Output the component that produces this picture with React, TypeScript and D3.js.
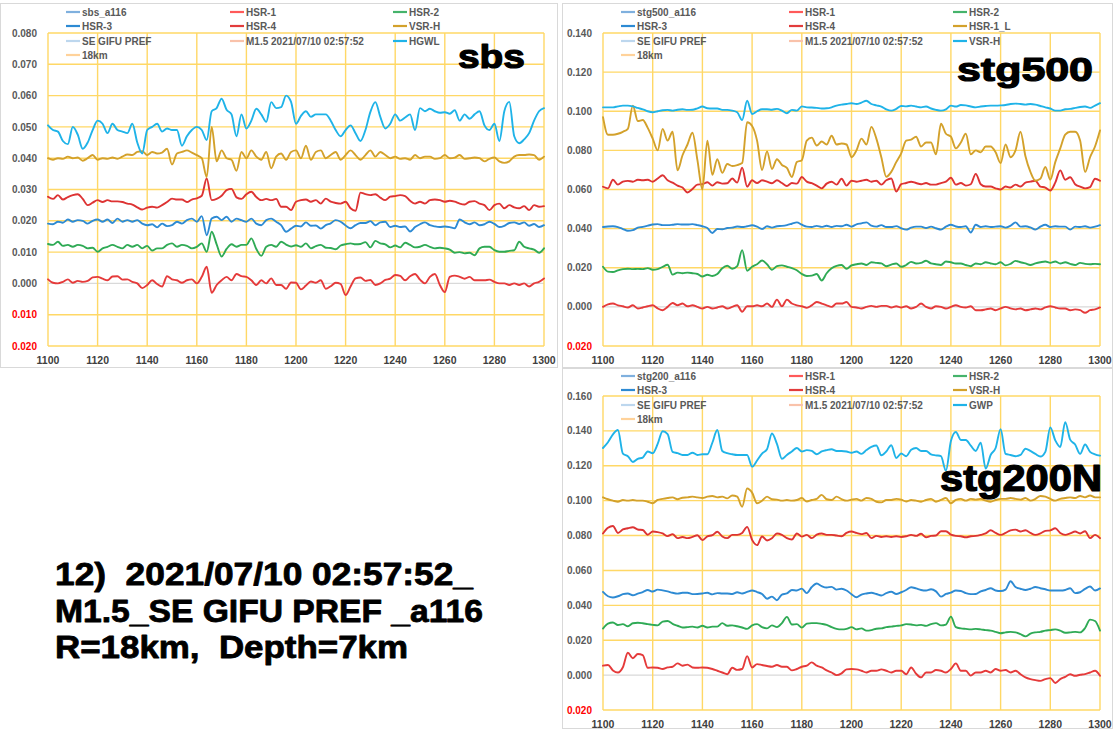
import React from 'react';
import * as d3 from 'd3';

// ---------- time axis (categories) ----------
const TIMES: number[] = d3.range(1100, 1301, 2);
const X_TICKS: number[] = d3.range(1100, 1301, 20);

// ---------- sbs panel ----------
const sbsHGWL = [
  .0505,.049,.0485,.0455,.0445,.050,.0475,.043,.045,.049,
  .052,.051,.048,.051,.049,.0485,.048,.051,.045,.0415,
  .049,.050,.051,.0485,.0495,.049,.049,.044,.047,.049,
  .050,.049,.0458,.055,.056,.059,.0555,.054,.047,.054,
  .0495,.052,.0558,.054,.0516,.0579,.056,.0563,.060,.058,
  .051,.0535,.055,.0532,.054,.054,.054,.052,.049,.047,
  .049,.0505,.048,.0455,.049,.0548,.0579,.0532,.0495,.051,
  .054,.052,.053,.054,.049,.056,.055,.0558,.055,.0545,
  .0547,.0542,.0553,.052,.054,.0526,.054,.055,.0505,.049,
  .051,.0455,.055,.058,.047,.0448,.046,.048,.052,.055,
  .056];
const sbsVSRH = [
  .040,.0395,.040,.0398,.0405,.040,.0402,.0392,.040,.041,
  .0395,.040,.0398,.0402,.0398,.0405,.0412,.041,.042,.0422,
  .041,.042,.0415,.0418,.043,.038,.0415,.042,.0425,.0418,
  .041,.040,.034,.050,.039,.0425,.040,.0395,.036,.042,
  .040,.0425,.0405,.0395,.042,.0368,.0405,.0415,.0395,.042,
  .0425,.040,.044,.0395,.042,.0425,.040,.041,.042,.0395,
  .041,.0425,.041,.0395,.041,.0425,.0405,.042,.041,.040,
  .0405,.0398,.040,.0395,.041,.040,.0405,.0405,.0398,.040,
  .041,.040,.0402,.041,.0398,.040,.0402,.040,.039,.0398,
  .0402,.039,.0385,.039,.0405,.041,.041,.0412,.041,.0395,
  .0405];
const sbsHSR4 = [
  .0277,.027,.0282,.0268,.0276,.0282,.0285,.027,.025,.0258,
  .0266,.026,.0266,.0262,.0262,.026,.0255,.0252,.0243,.0236,
  .0242,.0245,.0242,.025,.026,.0271,.0268,.0268,.026,.0268,
  .0272,.028,.0335,.0266,.027,.028,.0298,.0302,.0275,.027,
  .0285,.0293,.0276,.0266,.027,.0266,.027,.0245,.0245,.0234,
  .0261,.0266,.0268,.0261,.0266,.0255,.0271,.0261,.0257,.0255,
  .0261,.024,.0232,.029,.0285,.0282,.0285,.0274,.0266,.0277,
  .0279,.0282,.0279,.0264,.0255,.0261,.0255,.0266,.0268,.0266,
  .0261,.0264,.0261,.0255,.0252,.0261,.0263,.0255,.025,.0234,
  .025,.0255,.024,.025,.0243,.024,.0247,.0234,.025,.0245,
  .0247];
const sbsHSR3 = [
  .0191,.0189,.0197,.0194,.0204,.0197,.0202,.020,.0191,.020,
  .0204,.0197,.0204,.0193,.0207,.0197,.0202,.0197,.0202,.0191,
  .0186,.0189,.0179,.0191,.0183,.0186,.0197,.0191,.0202,.0207,
  .0197,.0215,.0154,.0207,.0213,.0202,.0213,.0197,.0207,.0202,
  .0197,.0207,.0191,.0186,.0202,.0207,.0197,.0186,.0165,.0175,
  .0184,.0182,.0195,.0184,.0185,.0175,.0186,.0192,.0202,.0197,
  .0185,.0176,.0186,.0193,.0193,.0199,.0186,.0195,.0197,.018,
  .0184,.018,.0182,.0166,.018,.0189,.0195,.0186,.0182,.018,
  .0182,.018,.0176,.0204,.0195,.0189,.0195,.0186,.0189,.0197,
  .019,.018,.0184,.0193,.0195,.019,.0195,.0184,.019,.018,
  .0186];
const sbsHSR2 = [
  .0126,.0123,.0133,.012,.0123,.0117,.0123,.012,.0112,.0114,
  .0101,.0112,.0117,.0123,.0117,.0112,.0123,.0117,.0123,.0112,
  .012,.0105,.0112,.0112,.0123,.0128,.0117,.0123,.012,.0112,
  .0117,.0128,.0101,.0165,.0125,.0086,.011,.0125,.0117,.0123,
  .0123,.0144,.011,.0088,.0117,.0123,.0117,.0133,.0124,.0118,
  .0122,.0117,.0128,.0112,.0119,.0123,.0114,.0113,.0109,.0121,
  .0125,.0128,.0125,.0126,.0132,.0115,.0136,.0128,.0125,.0115,
  .0121,.0115,.013,.0123,.0115,.0117,.0123,.0117,.0112,.0114,
  .0112,.0108,.0098,.010,.0096,.0098,.009,.0112,.0117,.0117,
  .0106,.0101,.0101,.0104,.0106,.0133,.0117,.0112,.0108,.0098,
  .0112];
const sbsHSR1 = [
  .0013,.0002,0,.0005,.0013,.0002,.0008,.0005,.0008,.0019,
  .0021,.0015,.001,.0022,.0023,.0012,.0013,.0005,0,-.0015,
  -.0005,.001,-.0002,-.001,.0023,.0013,.001,.0002,.001,.0013,
  0,.0021,.0053,-.003,-.0005,.001,.0021,.001,.003,.0023,
  .0021,.001,-.0005,.001,0,.0016,-.0005,-.0005,-.0017,.0003,
  .0002,-.0019,-.0007,.0006,.0002,.001,-.0017,-.0009,.0002,-.0002,
  -.0037,-.001,.0016,.0019,.0008,.0011,-.0005,0,.0011,.0015,
  .0027,.0024,.001,.0023,.003,.0012,0,.0021,.003,-.0005,
  -.0028,.0021,.0025,.0021,.0015,.0021,.001,.001,.001,.0012,
  .0005,0,0,-.0005,0,-.0005,0,-.001,0,.0005,
  .0016];

// ---------- stg500 panel ----------
const s500VSRH = [
  .102,.102,.102,.1025,.1029,.1029,.1025,.1017,.101,.100,
  .0995,.100,.1005,.1007,.1003,.1008,.101,.1007,.1008,.1015,
  .1024,.1015,.1014,.1014,.1007,.1007,.1003,.0995,.0955,.1054,
  .0986,.100,.101,.101,.1008,.1012,.1003,.099,.1007,.1003,
  .1025,.102,.1019,.1017,.1014,.1015,.102,.1029,.1034,.1037,
  .1041,.1037,.1044,.1054,.1037,.103,.1024,.101,.1003,.1012,
  .1027,.1025,.1029,.1024,.102,.1024,.1014,.1007,.1003,.101,
  .1029,.1024,.1032,.103,.1024,.102,.1024,.1027,.1029,.1029,
  .103,.1032,.1037,.1039,.1037,.1034,.1037,.1034,.1027,.102,
  .1014,.1003,.1003,.101,.1012,.1017,.1022,.1024,.1017,.1029,
  .1041];
const s500HSR1L = [
  .097,.088,.088,.0885,.0895,.091,.1029,.095,.0955,.0915,
  .086,.080,.091,.085,.0895,.0698,.0775,.083,.089,.075,
  .060,.085,.0675,.0755,.0685,.073,.072,.0725,.0735,.0944,
  .0925,.085,.070,.0795,.0705,.0755,.0725,.071,.0664,.074,
  .075,.085,.0865,.0825,.0845,.083,.0875,.083,.0835,.083,
  .0765,.080,.086,.083,.092,.086,.0765,.0665,.069,.074,
  .0785,.085,.0855,.087,.082,.084,.084,.078,.0936,.0885,
  .087,.081,.084,.0885,.078,.080,.079,.082,.082,.079,
  .0735,.083,.0765,.080,.0895,.077,.069,.0645,.0655,.0715,
  .065,.074,.081,.088,.0895,.0895,.085,.069,.0765,.082,
  .0902];
const s500HSR4 = [
  .0614,.0606,.065,.0625,.064,.0644,.064,.065,.0647,.065,
  .064,.0656,.0673,.0647,.0635,.062,.061,.0585,.0603,.0625,
  .0627,.0637,.062,.0637,.063,.0632,.0656,.0635,.0712,.0615,
  .0647,.0633,.0647,.064,.0632,.0647,.0633,.0618,.0633,.063,
  .0664,.064,.0632,.062,.0606,.063,.064,.0625,.0655,.062,
  .0645,.064,.0645,.065,.064,.0645,.0625,.0647,.0656,.059,
  .0627,.0633,.064,.0633,.0627,.0633,.0625,.0625,.0633,.064,
  .066,.0625,.0633,.062,.0627,.068,.0627,.0615,.0615,.0606,
  .060,.0615,.061,.0625,.0615,.0635,.064,.0645,.0615,.061,
  .0595,.0635,.0698,.065,.0663,.0627,.0615,.0606,.0612,.0655,
  .0645];
const s500HSR3 = [
  .0408,.0411,.0412,.0408,.0398,.0389,.0392,.0405,.0409,.0415,
  .0421,.0423,.0418,.0418,.042,.0423,.0421,.0421,.0423,.0418,
  .0412,.0403,.0378,.0398,.0397,.0403,.0405,.0411,.0408,.0412,
  .0417,.041,.0398,.0412,.0405,.0412,.0414,.0418,.0425,.0432,
  .042,.041,.0408,.0414,.0409,.0415,.0408,.0414,.0412,.042,
  .041,.0422,.0427,.0432,.0415,.041,.0418,.0408,.0408,.0413,
  .0402,.0395,.0405,.041,.041,.0403,.041,.0402,.0395,.041,
  .042,.0411,.0408,.0412,.038,.042,.0408,.0412,.0408,.041,
  .0412,.0405,.0415,.0432,.041,.0412,.0406,.0395,.041,.042,
  .0408,.0412,.041,.041,.0395,.041,.0408,.0412,.0405,.041,
  .0418];
const s500HSR2 = [
  .0205,.018,.0178,.0187,.0193,.0195,.0193,.0194,.0193,.0198,
  .019,.0193,.0205,.0215,.0165,.0175,.0172,.0175,.0172,.0168,
  .0155,.0164,.0158,.0168,.0197,.021,.0195,.0208,.029,.0185,
  .0205,.0218,.0237,.0218,.019,.0208,.0212,.0205,.0198,.0187,
  .0168,.0158,.016,.0168,.0135,.0172,.0197,.021,.0214,.0195,
  .0212,.0218,.0222,.0214,.0228,.0225,.0222,.0208,.0216,.0222,
  .0205,.0214,.023,.0222,.0225,.0236,.0222,.0218,.0214,.0232,
  .0228,.0222,.0222,.0214,.0208,.0222,.0218,.0228,.0222,.0218,
  .0228,.0212,.022,.0235,.0228,.0222,.0214,.0222,.0228,.0232,
  .0225,.0232,.0222,.0228,.022,.0214,.0225,.022,.0218,.022,
  .0218];
const s500HSR1 = [
  0,.0013,.0017,.0008,.0003,-.0003,.0008,-.0008,-.0003,.0003,
  .0008,-.0008,-.0017,0,.002,.0008,.0017,.0003,.0008,0,
  -.0008,0,-.0008,-.0003,.0003,-.0008,0,.0008,-.0025,.0003,
  .0003,.0008,.0003,.0017,0,.0037,.0003,.0037,.0017,.0008,
  .0003,-.0005,.0008,.0025,.0017,.0008,0,.0017,.0017,.0025,
  0,-.0003,-.0008,0,.0005,0,.0005,.0005,-.0003,.0003,
  -.0003,.0003,-.0008,0,.0017,0,-.0008,.0003,0,-.0008,
  0,.0008,0,-.0003,.0003,-.0017,-.0017,-.0013,-.0008,-.0017,
  -.0008,0,-.0008,-.0013,-.0008,-.0017,-.0013,-.0008,-.0013,-.0003,
  .0003,-.0003,-.0008,-.0008,-.0017,-.0013,-.0017,-.003,-.0017,-.0013,
  -.0003];

// ---------- stg200N panel ----------
const s200GWP = [
  .1302,.1335,.138,.1405,.127,.1255,.1222,.124,.1247,.1282,
  .1272,.1325,.1398,.1382,.128,.1272,.1262,.1262,.1275,.1262,
  .1266,.1266,.1332,.1405,.1285,.1272,.1266,.1262,.1262,.1262,
  .1195,.123,.127,.1295,.1385,.1325,.124,.1262,.1282,.1302,
  .1282,.129,.1285,.1266,.1282,.129,.1295,.1285,.1285,.1282,
  .1275,.1282,.1268,.129,.1308,.1316,.126,.1282,.1318,.1245,
  .127,.1255,.1292,.1302,.1285,.1285,.1266,.126,.1255,.1172,
  .1342,.1394,.1348,.1348,.1315,.1285,.1333,.1184,.1262,.1302,
  .141,.1268,.1262,.1255,.1262,.1298,.1285,.1268,.1253,.128,
  .142,.1346,.1308,.145,.135,.1322,.1268,.1322,.128,.1266,
  .1258];
const s200VSRH = [
  .1019,.1008,.100,.0994,.1004,.100,.1004,.100,.100,.0994,
  .0985,.1004,.101,.1015,.1019,.1008,.1017,.1019,.1023,.1019,
  .1015,.1023,.1027,.1019,.1023,.1013,.103,.1023,.0965,.107,
  .1046,.0985,.100,.1023,.1008,.1006,.100,.1004,.100,.1004,
  .1015,.0995,.1004,.101,.1033,.1008,.1004,.1023,.1009,.100,
  .1006,.101,.100,.1015,.101,.0994,.099,.1004,.1004,.101,
  .1006,.0995,.1004,.100,.0994,.1004,.101,.0994,.1004,.1015,
  .0985,.1004,.101,.100,.101,.1006,.101,.100,.0994,.1004,
  .101,.101,.1015,.101,.1006,.1015,.100,.101,.1027,.1023,
  .101,.100,.101,.1015,.1019,.1015,.1027,.1019,.103,.1019,
  .1019];
const s200HSR4 = [
  .0812,.0845,.0855,.0815,.0835,.0842,.0848,.0835,.0832,.0805,
  .0823,.082,.0812,.0797,.0808,.0785,.0792,.0785,.0792,.0802,
  .0774,.0795,.0802,.0822,.0795,.0785,.0804,.0804,.0815,.085,
  .0775,.0745,.0795,.0772,.0785,.0812,.0804,.0785,.0777,.0812,
  .0794,.0804,.0785,.0805,.0812,.0804,.0804,.08,.0796,.0815,
  .0823,.0815,.0808,.0815,.0785,.0798,.0792,.0796,.0792,.0796,
  .0792,.0796,.0804,.0798,.081,.079,.0798,.08,.0825,.0825,
  .0805,.0798,.0796,.079,.0796,.0798,.0804,.0812,.083,.0815,
  .0804,.0815,.083,.0834,.0823,.083,.0815,.0804,.0812,.0827,
  .083,.0842,.0815,.0804,.0812,.0823,.0812,.0825,.0785,.0804,
  .0785];
const s200HSR3 = [
  .0477,.0452,.0445,.0452,.0464,.0468,.0458,.0467,.0476,.0488,
  .0479,.049,.0486,.048,.0472,.0467,.0472,.0472,.0464,.0465,
  .0468,.0472,.0463,.047,.0468,.0468,.0465,.0475,.0468,.0477,
  .0485,.0476,.0465,.0438,.045,.0429,.0462,.0468,.0488,.0485,
  .0496,.047,.0505,.0525,.051,.0502,.0506,.049,.0495,.0485,
  .0464,.0446,.0462,.0468,.0472,.0465,.0456,.047,.0478,.0465,
  .0475,.0488,.0504,.0497,.0488,.0485,.0492,.048,.045,.0465,
  .0473,.0485,.0482,.047,.0464,.0465,.048,.0488,.0498,.0485,
  .0482,.049,.0538,.0505,.0495,.0488,.0495,.0505,.0498,.0492,
  .0485,.0485,.0485,.0488,.0498,.047,.0475,.0494,.0508,.0485,
  .0497];
const s200HSR2 = [
  .0267,.0295,.0302,.0287,.0292,.028,.0297,.030,.0297,.0292,
  .0288,.0285,.0307,.031,.0294,.0283,.0273,.0275,.0278,.0273,
  .0283,.0273,.0278,.0278,.0298,.0283,.0285,.028,.0273,.0265,
  .0285,.0292,.0275,.0268,.0285,.0275,.0298,.0334,.029,.0292,
  .0272,.0295,.0298,.0298,.0294,.0288,.0275,.0265,.0262,.0265,
  .0275,.0262,.0268,.0255,.0258,.0266,.0268,.0275,.0278,.0282,
  .0285,.0292,.029,.0285,.0288,.0282,.0292,.0298,.0285,.029,
  .0335,.0275,.0268,.0265,.0262,.0265,.0262,.0258,.0255,.0248,
  .024,.0245,.0248,.0245,.0235,.0222,.0238,.0245,.0248,.0255,
  .0258,.0262,.0255,.0243,.0245,.0248,.0245,.027,.0318,.031,
  .0255];
const s200HSR1 = [
  .0054,.0058,.0027,.0015,.0045,.0128,.0097,.0121,.0115,.0042,
  .0044,.0042,.0035,.0044,.0048,.0067,.0054,.006,.0044,.0042,
  .0044,.0042,.0035,.0025,.0015,.0005,.0042,.003,.0035,.0109,
  .0044,.0063,.0058,.0052,.0048,.0058,.0048,.0048,.0027,.0035,
  .0048,.0054,.0073,.0054,.0044,.0027,.0015,0,.001,.0033,
  .0035,.0033,.0025,.0015,.0025,.0025,.0033,.0025,.0015,.0025,
  .0025,.0005,.0044,.0008,-.0013,.0015,.0015,.0029,.0025,.0015,
  .0035,.0067,.0025,.0025,-.0003,.0015,.0015,.0025,.0015,.0035,
  .0025,.0029,.0015,.0025,.0005,-.0013,-.0023,-.0029,-.0033,-.0023,
  -.0017,-.0045,-.0023,-.001,.0005,-.0004,.0002,.0006,.0015,.0025,
  -.0004];

// ---------- labels ----------
const sbsLegendLabels = ['sbs_a116', 'HSR-1', 'HSR-2', 'HSR-3', 'HSR-4', 'VSR-H', 'SE GIFU PREF', 'M1.5 2021/07/10 02:57:52', 'HGWL', '18km'];
const s500LegendLabels = ['stg500_a116', 'HSR-1', 'HSR-2', 'HSR-3', 'HSR-4', 'HSR-1_L', 'SE GIFU PREF', 'M1.5 2021/07/10 02:57:52', 'VSR-H', '18km'];
const s200LegendLabels = ['stg200_a116', 'HSR-1', 'HSR-2', 'HSR-3', 'HSR-4', 'VSR-H', 'SE GIFU PREF', 'M1.5 2021/07/10 02:57:52', 'GWP', '18km'];
const annotationLines = ['12)  2021/07/10 02:57:52_', 'M1.5_SE GIFU PREF _a116', 'R=18km,  Depth=7km'];

// ---------- styling ----------
const FONT = '"Liberation Sans", Arial, Helvetica, sans-serif';
const COL = {
  cyan: '#1FB3E8', gold: '#D3A12B', red: '#E53A3A', red4: '#DD3333', blue: '#2D8AD3', green: '#2FAA55',
};
const LEGEND_COLORS = ['#7FB0DE', '#FF5A5A', '#45B36B', '#2D8AD3', '#E23C3C', '#D3A12B', '#BDD7EE', '#F9C2AA', '#1FB3E8', '#FFD29A'];
const GRID = '#FFD866';
const ZERO = '#D9D9D9';

type Series = { values: number[]; color: string };
type PanelDef = {
  key: string;
  frame: [number, number, number, number];
  plot: { l: number; r: number; t: number; b: number };
  yMin: number; yMax: number; yStep: number;
  title: string; titleX: number; titleY: number; titleLen: number; titleSize: number;
  legendCols: number[]; legendRows: number[]; legendLabels: string[];
  series: Series[];
};

const panels: PanelDef[] = [
  {
    key: 'sbs', frame: [0.5, 3.5, 557, 364], plot: { l: 48, r: 544, t: 33, b: 346 },
    yMin: -0.02, yMax: 0.08, yStep: 0.01,
    title: 'sbs', titleX: 458, titleY: 68, titleLen: 67, titleSize: 34,
    legendCols: [66, 230, 393], legendRows: [12, 26, 41, 55], legendLabels: sbsLegendLabels,
    series: [
      { values: sbsHSR1, color: COL.red },
      { values: sbsHSR2, color: COL.green },
      { values: sbsHSR3, color: COL.blue },
      { values: sbsHSR4, color: COL.red4 },
      { values: sbsVSRH, color: COL.gold },
      { values: sbsHGWL, color: COL.cyan },
    ],
  },
  {
    key: 'stg500', frame: [562.5, 3.5, 550, 364], plot: { l: 603, r: 1100, t: 33, b: 346 },
    yMin: -0.02, yMax: 0.14, yStep: 0.02,
    title: 'stg500', titleX: 957, titleY: 81, titleLen: 136, titleSize: 34,
    legendCols: [621, 789, 953], legendRows: [12, 26, 41, 55], legendLabels: s500LegendLabels,
    series: [
      { values: s500HSR1, color: COL.red },
      { values: s500HSR2, color: COL.green },
      { values: s500HSR3, color: COL.blue },
      { values: s500HSR4, color: COL.red4 },
      { values: s500HSR1L, color: COL.gold },
      { values: s500VSRH, color: COL.cyan },
    ],
  },
  {
    key: 'stg200N', frame: [562.5, 368.5, 550, 360], plot: { l: 603, r: 1100, t: 396, b: 710 },
    yMin: -0.02, yMax: 0.16, yStep: 0.02,
    title: 'stg200N', titleX: 940, titleY: 491, titleLen: 162, titleSize: 36,
    legendCols: [621, 789, 953], legendRows: [376, 390, 405, 419], legendLabels: s200LegendLabels,
    series: [
      { values: s200HSR1, color: COL.red },
      { values: s200HSR2, color: COL.green },
      { values: s200HSR3, color: COL.blue },
      { values: s200HSR4, color: COL.red4 },
      { values: s200VSRH, color: COL.gold },
      { values: s200GWP, color: COL.cyan },
    ],
  },
];

function Panel({ p }: { p: PanelDef }) {
  const x = d3.scaleLinear().domain([1100, 1300]).range([p.plot.l, p.plot.r]);
  const y = d3.scaleLinear().domain([p.yMin, p.yMax]).range([p.plot.b, p.plot.t]);
  const nTicks = Math.round((p.yMax - p.yMin) / p.yStep);
  const yTicks = d3.range(0, nTicks + 1).map((i) => +(p.yMin + i * p.yStep).toFixed(4));
  const line = d3
    .line<number>()
    .x((_, i) => x(TIMES[i]))
    .y((d) => y(d))
    .curve(d3.curveMonotoneX);

  return (
    <g>
      <rect x={p.frame[0]} y={p.frame[1]} width={p.frame[2]} height={p.frame[3]} fill="#fff" stroke="#D9D9D9" strokeWidth={1} />
      {yTicks.map((v) => (
        <line key={'h' + v} x1={p.plot.l} x2={p.plot.r} y1={y(v)} y2={y(v)}
          stroke={Math.abs(v) < 1e-9 ? ZERO : GRID} strokeWidth={1.4} />
      ))}
      {X_TICKS.map((t) => (
        <line key={'v' + t} x1={x(t)} x2={x(t)} y1={p.plot.t} y2={p.plot.b} stroke={GRID} strokeWidth={1.4} />
      ))}
      {yTicks.map((v) => (
        <text key={'yl' + v} x={p.plot.l - 11} y={y(v) + 3.6} textAnchor="end" fontFamily={FONT}
          fontWeight="bold" fontSize={10} fill={v < -1e-9 ? '#FF0000' : '#595959'}>
          {Math.abs(v).toFixed(3)}
        </text>
      ))}
      {X_TICKS.map((t) => (
        <text key={'xl' + t} x={x(t)} y={p.plot.b + 18} textAnchor="middle" fontFamily={FONT}
          fontWeight="bold" fontSize={10.5} fill="#404040">
          {t}
        </text>
      ))}
      {p.series.map((s, i) => (
        <path key={'s' + i} d={line(s.values) || ''} fill="none" stroke={s.color} strokeWidth={1.9}
          strokeLinejoin="round" strokeLinecap="round" />
      ))}
      {p.legendLabels.map((lab, i) => {
        const col = p.legendCols[i % 3];
        const row = p.legendRows[Math.floor(i / 3)];
        return (
          <g key={'lg' + i}>
            <line x1={col} x2={col + 14} y1={row} y2={row} stroke={LEGEND_COLORS[i]} strokeWidth={2.2} />
            <text x={col + 16} y={row + 3.5} fontFamily={FONT} fontWeight="bold" fontSize={10} fill="#595959">
              {lab}
            </text>
          </g>
        );
      })}
      <text x={p.titleX} y={p.titleY} fontFamily={FONT} fontWeight="bold" fontSize={p.titleSize}
        textLength={p.titleLen} lengthAdjust="spacingAndGlyphs" fill="#000" stroke="#000" strokeWidth={1.2}
        strokeLinejoin="round">
        {p.title}
      </text>
    </g>
  );
}

export default function App() {
  const annY = [585, 622, 658];
  const annLen = [418, 428, 353];
  return (
    <svg width={1115} height={731} style={{ position: 'absolute', left: 0, top: 0, background: '#fff' }}>
      <rect x={0} y={0} width={1115} height={731} fill="#fff" />
      {panels.map((p) => (
        <Panel key={p.key} p={p} />
      ))}
      {annotationLines.map((t, i) => (
        <text key={'an' + i} x={55} y={annY[i]} fontFamily={FONT} fontWeight="bold" fontSize={31}
          textLength={annLen[i]} lengthAdjust="spacingAndGlyphs" fill="#000" stroke="#000" strokeWidth={0.8}
          strokeLinejoin="round" style={{ whiteSpace: 'pre' }}>
          {t}
        </text>
      ))}
    </svg>
  );
}
